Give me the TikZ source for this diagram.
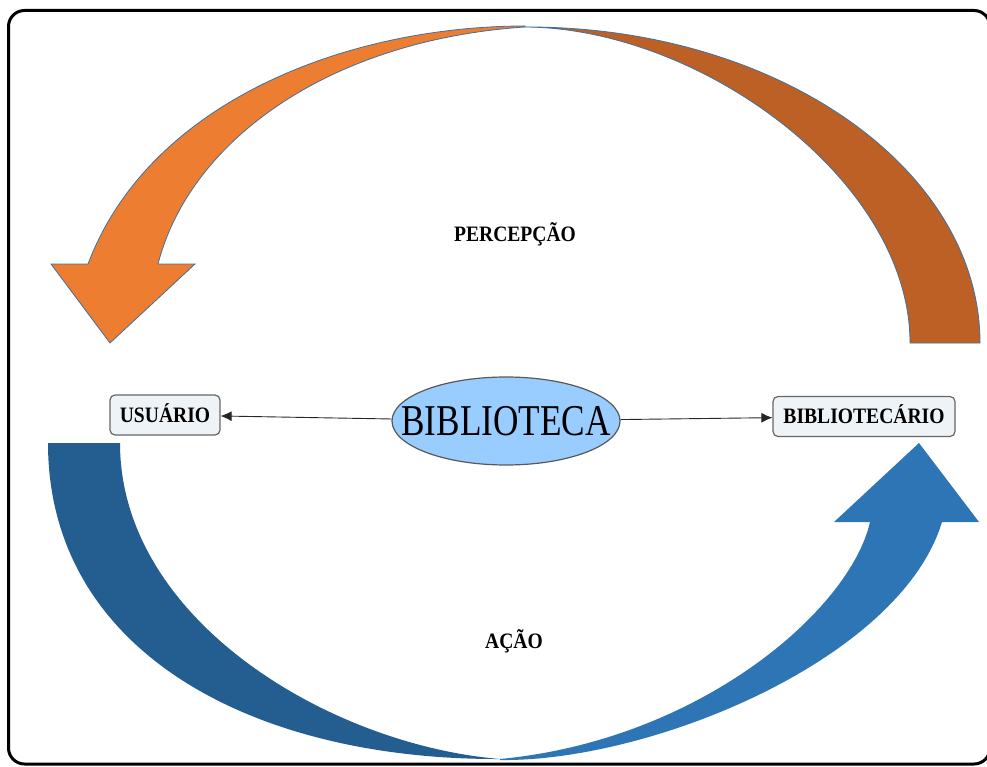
\documentclass[tikz,border=0pt]{standalone}
\usepackage{fontspec}
\setmainfont{Liberation Serif}
\newfontfamily\hubfont[FakeStretch=0.8]{Liberation Serif}
\newfontfamily\tagfont[FakeStretch=0.89]{Liberation Serif}
\usetikzlibrary{arrows.meta,shapes}
\definecolor{orangeL}{RGB}{237,125,49}
\definecolor{orangeD}{RGB}{188,96,38}
\definecolor{blueD}{RGB}{36,94,145}
\definecolor{blueL}{RGB}{46,117,182}
\definecolor{rimblue}{RGB}{65,113,156}
\definecolor{hubblue}{RGB}{153,204,255}
\definecolor{boxfill}{RGB}{237,243,247}
\tikzstyle{frame}=[draw=black,line width=3pt,rounded corners=16pt]
\tikzstyle{hub}=[ellipse,draw=black!65,line width=1.2pt,fill=hubblue,minimum width=228pt,minimum height=88pt,inner sep=0pt,text height=29pt,text depth=0pt,font=\hubfont\fontsize{44}{44}\selectfont]
\tikzstyle{agent}=[rectangle,rounded corners=5pt,draw=black!60,line width=1.2pt,fill=boxfill,minimum height=40pt,inner sep=0pt,text height=14.6pt,text depth=0pt,font=\tagfont\bfseries\fontsize{22}{22}\selectfont]
\tikzstyle{caption}=[inner sep=0pt,text height=14.6pt,text depth=0pt,font=\tagfont\bfseries\fontsize{22}{22}\selectfont]
\tikzstyle{edge}=[draw,line width=0.9pt,black!85,-{Latex[length=11pt,width=10pt]}]
\tikzstyle{rim}=[draw=rimblue,line width=0.8pt]

\begin{document}
\begin{tikzpicture}[x=1pt,y=-1pt]

    \useasboundingbox (0,0) rectangle (987,767);
    \draw[frame] (8.5,10.5) rectangle (990,764);

    % upper arc (orange), two tones
    \fill[orangeL,rim] (525,26) .. controls (350,26) and (150,100) .. (88,264)
        -- (51,264) -- (110,343) -- (195,264) -- (158,264)
        .. controls (190,140) and (330,40) .. (525,27) -- cycle;
    \fill[orangeD,rim] (525,27) .. controls (776,26) and (980,168) .. (980,343)
        -- (910,343) .. controls (910,180) and (700,28) .. (525,27) -- cycle;

    % lower arc (blue), two tones
    \fill[blueD] (48,443) -- (120,443) .. controls (120,620) and (330,745) .. (500,759)
        .. controls (250,760) and (48,650) .. (48,443) -- cycle;
    \fill[blueL] (500,760) .. controls (650,762) and (900,660) .. (942,522)
        -- (979,522) -- (919,443) -- (834,522) -- (870,522)
        .. controls (850,610) and (700,740) .. (500,759) -- cycle;

    \node[hub] (hub) at (506,421) {\makebox[0pt]{BIBLIOTECA}};

    \foreach \x/\y/\w/\name/\txt in {165/415/110/user/USUÁRIO, 864/416.5/182/librarian/BIBLIOTECÁRIO}
        \node[agent, minimum width=\w pt] (\name) at (\x,\y) {\txt};

    \foreach \dest in {user, librarian}
        \path[edge] (hub) -- (\dest);

    \node[caption] (perception) at (515,234) {PERCEPÇÃO};
    \node[caption] (action) at (514,641) {AÇÃO};

\end{tikzpicture}
\end{document}
